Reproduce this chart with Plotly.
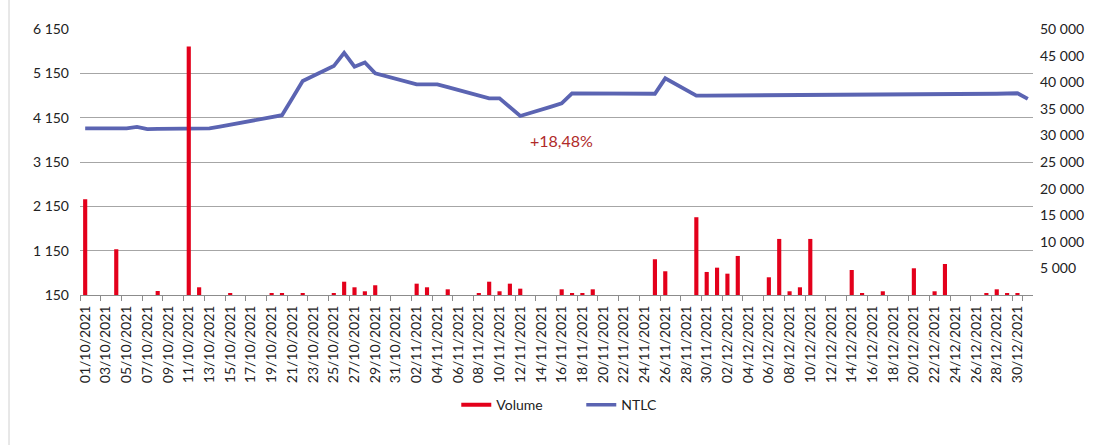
import plotly.graph_objects as go
import pandas as pd

# Calendar categories (every day of Q4 2021)
all_days = [d.strftime("%d/%m/%Y") for d in pd.date_range("2021-10-01", "2021-12-31")]

# Trading days
oct_days = ["01", "04", "05", "06", "07", "08", "11", "12", "13", "14", "15",
            "18", "19", "20", "21", "22", "25", "26", "27", "28", "29"]
nov_days = ["02", "03", "04", "05", "08", "09", "10", "11", "12", "15", "16",
            "17", "18", "19", "22", "23", "24", "25", "26", "29", "30"]
dec_days = ["01", "02", "03", "06", "07", "08", "09", "10", "13", "14", "15", "16",
            "17", "20", "21", "22", "23", "24", "27", "28", "29", "30", "31"]
trade_dates = ([f"{d}/10/2021" for d in oct_days] + [f"{d}/11/2021" for d in nov_days]
               + [f"{d}/12/2021" for d in dec_days])

ntlc_oct = [3910, 3910, 3910, 3940, 3890, 3895, 3900, 3905, 3910, 3950, 3990,
            4120, 4160, 4205, 4590, 4977, 5314, 5610, 5300, 5395, 5150]
ntlc_nov = [4902, 4902, 4902, 4839, 4650, 4587, 4587, 4390, 4188, 4400, 4474,
            4700, 4700, 4700, 4700, 4700, 4700, 4690, 5037, 4645, 4647]
ntlc_dec = [4648, 4650, 4650, 4652, 4655, 4656, 4658, 4660, 4662, 4665, 4666, 4668,
            4670, 4672, 4675, 4677, 4680, 4682, 4685, 4690, 4695, 4700, 4573]
ntlc = ntlc_oct + ntlc_nov + ntlc_dec

vol_oct = [18000, 8600, 0, 0, 0, 750, 46700, 1450, 0, 0, 380,
           0, 380, 380, 0, 380, 200, 2500, 1450, 700, 1830]
vol_nov = [2130, 1450, 0, 1070, 380, 2500, 700, 2130, 1190, 0, 1070,
           190, 190, 1070, 0, 0, 0, 6720, 4460, 14620, 4330]
vol_dec = [5140, 4010, 7340, 3330, 10540, 700, 1450, 10540, 0, 4700, 320, 0,
           700, 5020, 0, 700, 5830, 0, 320, 1070, 320, 190, 0]
volume = vol_oct + vol_nov + vol_dec

left_ticks = [150, 1150, 2150, 3150, 4150, 5150, 6150]
left_labels = ["150", "1 150", "2 150", "3 150", "4 150", "5 150", "6 150"]
right_ticks = [5000, 10000, 15000, 20000, 25000, 30000, 35000, 40000, 45000, 50000]
right_labels = ["5 000", "10 000", "15 000", "20 000", "25 000", "30 000",
                "35 000", "40 000", "45 000", "50 000"]
x_tick_labels = all_days[::2]

annotation_text = "+18,48%"
annotation_x = "16/11/2021"
annotation_y = 3645

RED = "#E3001B"
BLUE = "#5B64B2"
FONT = "Lato"

fig = go.Figure()

fig.add_trace(go.Scatter(
    x=trade_dates, y=ntlc, name="NTLC", mode="lines",
    line=dict(color=BLUE, width=3.8), yaxis="y", showlegend=False,
))
fig.add_trace(go.Bar(
    x=trade_dates, y=volume, name="Volume", marker=dict(color=RED, line=dict(width=0)),
    width=0.4, yaxis="y2", showlegend=False,
))
# legend entries (line-style swatches like the original)
fig.add_trace(go.Scatter(x=[None], y=[None], name="Volume", mode="lines",
                         line=dict(color=RED, width=4), yaxis="y2"))
fig.add_trace(go.Scatter(x=[None], y=[None], name="NTLC", mode="lines",
                         line=dict(color=BLUE, width=3.5), yaxis="y"))

fig.add_annotation(
    x=annotation_x, y=annotation_y, xref="x", yref="y", text=annotation_text,
    showarrow=False, font=dict(family=FONT, size=16, color="#B02A2A"),
)

fig.update_layout(
    width=1095, height=445,
    margin=dict(l=80, r=62, t=29, b=150),
    paper_bgcolor="white", plot_bgcolor="white",
    font=dict(family=FONT, size=14, color="#222222"),
    xaxis=dict(
        type="category", categoryorder="array", categoryarray=all_days,
        range=[-0.5, len(all_days) - 0.5],
        tickmode="array", tickvals=x_tick_labels, ticktext=x_tick_labels,
        tickangle=-90, ticks="outside", ticklen=5, tickcolor="#8c8c8c",
        tickson="boundaries", showline=True, linecolor="#8c8c8c", linewidth=1,
        showgrid=False, ticklabelstandoff=4,
        tickfont=dict(size=14, family=FONT, color="#222222"),
    ),
    yaxis=dict(
        range=[150, 6150], tickmode="array", tickvals=left_ticks, ticktext=left_labels,
        showgrid=True, gridcolor="#a6a6a6", gridwidth=1, zeroline=False,
        showline=False, ticks="", ticklabelstandoff=10,
        tickfont=dict(size=14, family=FONT, color="#222222"),
    ),
    yaxis2=dict(
        overlaying="y", side="right", range=[0, 50000], tickmode="array",
        tickvals=right_ticks, ticktext=right_labels, showgrid=False, zeroline=False,
        showline=False, ticks="", ticklabelstandoff=6,
        tickfont=dict(size=14, family=FONT, color="#222222"),
    ),
    legend=dict(
        orientation="h", x=0.526, xanchor="center", y=-0.414, yanchor="middle",
        font=dict(size=14, family=FONT, color="#222222"),
        itemwidth=30, entrywidth=80, entrywidthmode="pixels",
    ),
    shapes=[dict(type="line", xref="paper", yref="paper", x0=-0.0745, x1=-0.0745,
                 y0=-0.6, y1=1.2, line=dict(color="#d0d0d0", width=1))],
)

fig.write_html("out.html", config={"displayModeBar": False},
               post_script="document.body.style.margin='0';document.body.style.overflow='hidden';")
